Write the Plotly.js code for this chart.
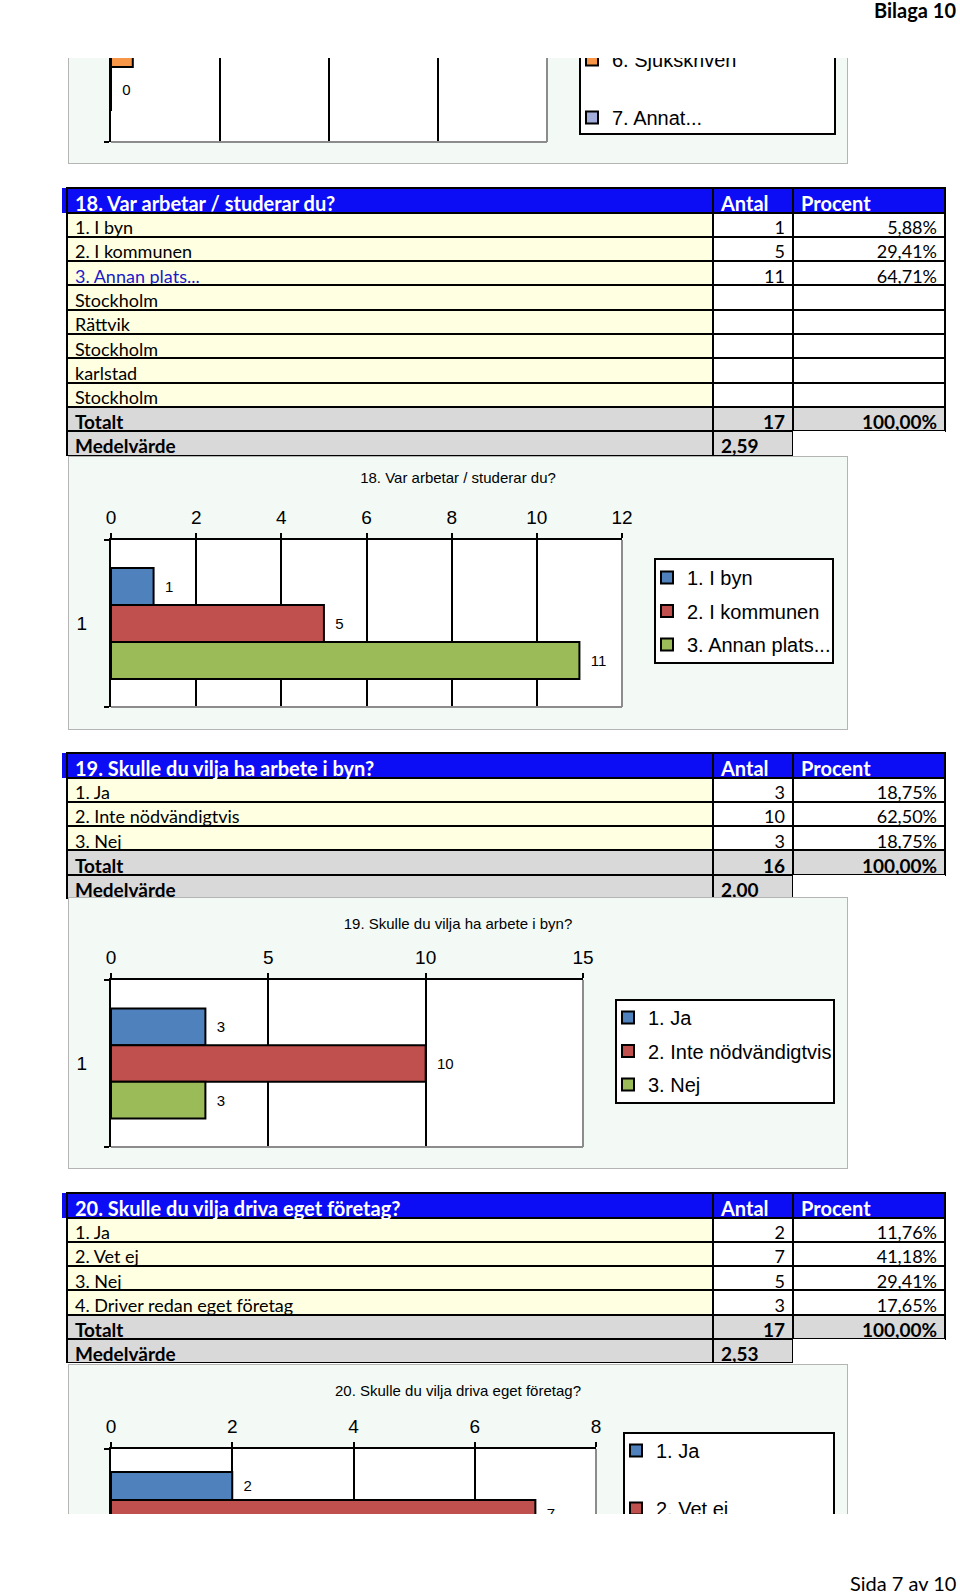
<!DOCTYPE html>
<html><head><meta charset="utf-8">
<script src="https://cdn.plot.ly/plotly-3.0.1.min.js"></script>
<style>
html,body{margin:0;padding:0;background:#fff;}
body{position:relative;width:960px;height:1594px;overflow:hidden;}
.pl{position:absolute;}
.box{outline:1px solid #b4b4b4;}
.clip{position:absolute;left:0;width:960px;overflow:hidden;}
#w17{top:58px;height:107px;}
#w20{top:0px;height:1514px;}
#bilaga{position:absolute;right:4px;top:-2px;font-family:Lato,sans-serif;font-weight:bold;font-size:20px;line-height:24px;z-index:11;}
#sida{position:absolute;left:850px;top:1571px;font-family:Lato,sans-serif;font-size:20px;line-height:24px;z-index:11;}
</style></head><body>
<div id="w17" class="clip"><div id="t17" class="pl box"></div></div>
<div id="tab18" class="pl"></div>
<div id="c18" class="pl box"></div>
<div id="tab19" class="pl"></div>
<div id="c19" class="pl box"></div>
<div id="tab20" class="pl"></div>
<div id="w20" class="clip"><div id="c20" class="pl box"></div></div>
<div id="bilaga">Bilaga 10</div>
<div id="sida">Sida 7 av 10</div>
<script>
// ---------- data ----------
const seriesCategory = ['1'];

const q17Names = ['6. Sjukskriven', '7. Annat...'];
const q17Values = [1, 0];

const q18Title = '18. Var arbetar / studerar du?';
const q18Options = ['1. I byn', '2. I kommunen', '3. Annan plats...'];
const q18Counts = [1, 5, 11];
const q18Percent = [5.88, 29.41, 64.71];
const q18Other = ['Stockholm', 'Rättvik', 'Stockholm', 'karlstad', 'Stockholm'];
const q18Total = 17;
const q18TotalPct = 100.00;
const q18Mean = 2.59;

const q19Title = '19. Skulle du vilja ha arbete i byn?';
const q19Options = ['1. Ja', '2. Inte nödvändigtvis', '3. Nej'];
const q19Counts = [3, 10, 3];
const q19Percent = [18.75, 62.50, 18.75];
const q19Total = 16;
const q19TotalPct = 100.00;
const q19Mean = 2.00;

const q20Title = '20. Skulle du vilja driva eget företag?';
const q20Options = ['1. Ja', '2. Vet ej', '3. Nej', '4. Driver redan eget företag'];
const q20Counts = [2, 7, 5, 3];
const q20Percent = [11.76, 41.18, 29.41, 17.65];
const q20Total = 17;
const q20TotalPct = 100.00;
const q20Mean = 2.53;

const colHeaders = ['Antal', 'Procent'];
const totalLabel = 'Totalt';
const meanLabel = 'Medelvärde';

// ---------- styles ----------
const CFONT = 'Liberation Sans, Arial, sans-serif';
const TFONT = 'Lato, sans-serif';
const BLUE = '#0c0cf5', YELLOW = '#ffffe1', GRAY = '#d9d9d9', WHITE = '#ffffff', NONE = 'rgba(0,0,0,0)';
const MINT = '#f3faf6';
const barColors = ['#4f81bd', '#c0504d', '#9bbb59', '#8064a2'];
const q17Colors = ['#f79646', '#a3addb'];
const cfg = {staticPlot: true, displayModeBar: false};

const fmt = v => v.toFixed(2).replace('.', ',');

function makeTable(id, top, title, options, counts, pct, extra, total, totalPct, mean, linkRows) {
  const ROWH = 24.3, HEADH = 24.5;
  const labels = options.concat(extra);
  const n = labels.length;
  const colLabel = labels.concat([totalLabel, meanLabel]);
  const colAntal = labels.map((_, i) => i < counts.length ? String(counts[i]) : '')
    .concat([String(total), fmt(mean)]);
  const colPct = labels.map((_, i) => i < pct.length ? fmt(pct[i]) + '%' : '')
    .concat([fmt(totalPct) + '%', '']);
  const colPad = colLabel.map(() => '');
  const rows = colLabel.length;
  const idx = [...Array(rows).keys()];
  const el = document.getElementById(id);
  const W = 887, H = HEADH + rows * ROWH + 4;
  el.style.left = '60px'; el.style.top = (top - 2) + 'px';
  el.style.width = W + 'px'; el.style.height = H + 'px';
  const colOf = f => [0, 1, 2, 3].map(c => idx.map(i => f(c, i)));
  const trace = {
    type: 'table',
    columnwidth: [5, 646, 80, 152],
    header: {
      values: ['', title, colHeaders[0], colHeaders[1]],
      height: HEADH,
      align: 'left',
      fill: {color: [BLUE, BLUE, BLUE, BLUE]},
      line: {color: [NONE, '#000', '#000', '#000'], width: 2},
      font: {family: TFONT, size: 20, color: '#fff', weight: 'bold'}
    },
    cells: {
      values: [colPad, colLabel, colAntal, colPct],
      height: ROWH,
      align: colOf((c, i) => (c === 2 && i !== rows - 1) || c === 3 ? 'right' : 'left'),
      fill: {color: colOf((c, i) => c === 0 ? NONE : (i < n ? (c === 1 ? YELLOW : WHITE)
                                        : (c === 3 && i === rows - 1 ? WHITE : GRAY)))},
      line: {color: colOf((c, i) => c === 0 || (c === 3 && i === rows - 1) ? NONE : '#000'), width: 2},
      font: {family: TFONT,
             size: colOf((c, i) => i < n ? 18 : 19),
             weight: colOf((c, i) => i < n ? 'normal' : 'bold'),
             color: colOf((c, i) => c === 1 && linkRows.includes(i) ? '#1a1ac8' : '#000')}
    }
  };
  Plotly.newPlot(el, [trace], {
    width: W, height: H, margin: {l: 2, r: 2, t: 2, b: 2, pad: 0, autoexpand: false},
    paper_bgcolor: 'rgba(0,0,0,0)'
  }, cfg);
}

function makeChart(id, o) {
  const L = 69, W = 778;
  const el = document.getElementById(id);
  el.style.left = L + 'px'; el.style.top = (o.top - (o.parentTop || 0)) + 'px';
  el.style.width = W + 'px'; el.style.height = o.height + 'px';
  const pw = o.px1 - o.px0, ph = o.py1 - o.py0;
  const xp = v => (v - o.px0) / pw;
  const yp = v => (o.py1 - v) / ph;
  const traces = o.names.map((nm, i) => ({
    type: 'bar', orientation: 'h', name: nm,
    x: [o.values[i]], y: seriesCategory,
    marker: {color: o.colors[i], line: {color: '#000', width: 2}},
    texttemplate: '\u00a0\u00a0%{x}', textposition: 'outside', constraintext: 'none',
    textfont: {family: CFONT, size: 15, color: '#000'}, cliponaxis: false,
    legendgroup: 'g' + i, hoverinfo: 'skip'
  }));
  const layout = {
    width: W, height: o.height,
    margin: {l: o.px0 - L, r: L + W - o.px1, t: o.py0 - o.top, b: o.top + o.height - o.py1, pad: 0, autoexpand: false},
    paper_bgcolor: MINT, plot_bgcolor: '#fff',
    barmode: 'group', bargap: o.bargap, bargroupgap: 0,
    showlegend: true,
    legend: {x: xp(o.box[0] - 8), y: yp(o.legendTop), xanchor: 'left', yanchor: 'top',
             bgcolor: NONE, borderwidth: 0, tracegroupgap: o.gap,
             font: {family: CFONT, size: 20, color: '#000'}},
    xaxis: {side: 'top', range: [0, o.xmax], dtick: o.dtick, tick0: 0,
            showgrid: true, gridcolor: '#000', gridwidth: 2, zeroline: false,
            showline: true, linecolor: '#000', linewidth: 2,
            ticks: 'outside', ticklen: 5, tickwidth: 2, tickcolor: '#000', ticklabelstandoff: 1,
            showticklabels: o.labels,
            tickfont: {family: CFONT, size: 19, color: '#000'}, fixedrange: true},
    yaxis: {type: 'category', autorange: 'reversed', showgrid: false,
            showline: true, linecolor: '#000', linewidth: 2,
            ticks: 'outside', tickson: 'boundaries', ticklen: 5, tickwidth: 2, tickcolor: '#000',
            ticklabelstandoff: 18, showticklabels: o.labels,
            tickfont: {family: CFONT, size: 19, color: '#000'}, fixedrange: true},
    shapes: [
      {type: 'line', xref: 'x domain', yref: 'y domain', x0: 0, x1: 1, y0: 0, y1: 0, line: {color: '#8c8c8c', width: 2}, layer: 'above'},
      {type: 'line', xref: 'x domain', yref: 'y domain', x0: 1, x1: 1, y0: 0, y1: 1, line: {color: '#8c8c8c', width: 2}, layer: 'above'},
      {type: 'rect', xref: 'paper', yref: 'paper', x0: xp(o.box[0]), x1: xp(o.box[2]), y0: yp(o.box[3]), y1: yp(o.box[1]),
       fillcolor: '#fff', line: {color: '#000', width: 2}, layer: 'above'}
    ]
  };
  if (o.title) {
    layout.title = {text: o.title, font: {family: CFONT, size: 15, color: '#000'},
                    xref: 'container', x: 0.5, xanchor: 'center',
                    yref: 'container', y: 1 - o.titleDy / o.height, yanchor: 'middle'};
  }
  Plotly.newPlot(el, traces, layout, cfg);
}

// ---------- build ----------
makeChart('t17', {top: -100, parentTop: 58, height: 263, px0: 111, px1: 547, py0: -8, py1: 142,
  names: q17Names, values: q17Values, colors: q17Colors, xmax: 20, dtick: 5, labels: false,
  bargap: 0.413, box: [580, 20, 835, 134], legendTop: 40, gap: 29, title: null});

makeTable('tab18', 187.5, q18Title, q18Options, q18Counts, q18Percent, q18Other, q18Total, q18TotalPct, q18Mean, [2]);
makeChart('c18', {top: 457, height: 272, px0: 111, px1: 622, py0: 540, py1: 707,
  names: q18Options, values: q18Counts, colors: barColors, xmax: 12, dtick: 2, labels: true,
  bargap: 0.335, box: [655, 559, 833, 663], legendTop: 558, gap: 4.5, title: q18Title, titleDy: 21});

makeTable('tab19', 752.5, q19Title, q19Options, q19Counts, q19Percent, [], q19Total, q19TotalPct, q19Mean, []);
makeChart('c19', {top: 898, height: 270, px0: 111, px1: 583, py0: 980, py1: 1147,
  names: q19Options, values: q19Counts, colors: barColors, xmax: 15, dtick: 5, labels: true,
  bargap: 0.34, box: [616, 1000, 834, 1103], legendTop: 998, gap: 4.5, title: q19Title, titleDy: 26});

makeTable('tab20', 1193, q20Title, q20Options, q20Counts, q20Percent, [], q20Total, q20TotalPct, q20Mean, []);
makeChart('c20', {top: 1365, parentTop: 0, height: 335, px0: 111, px1: 596, py0: 1449, py1: 1607,
  names: q20Options, values: q20Counts, colors: barColors, xmax: 8, dtick: 2, labels: true,
  bargap: 0.29, box: [624, 1433, 834, 1680], legendTop: 1431, gap: 29, title: q20Title, titleDy: 26});
</script>
</body></html>
